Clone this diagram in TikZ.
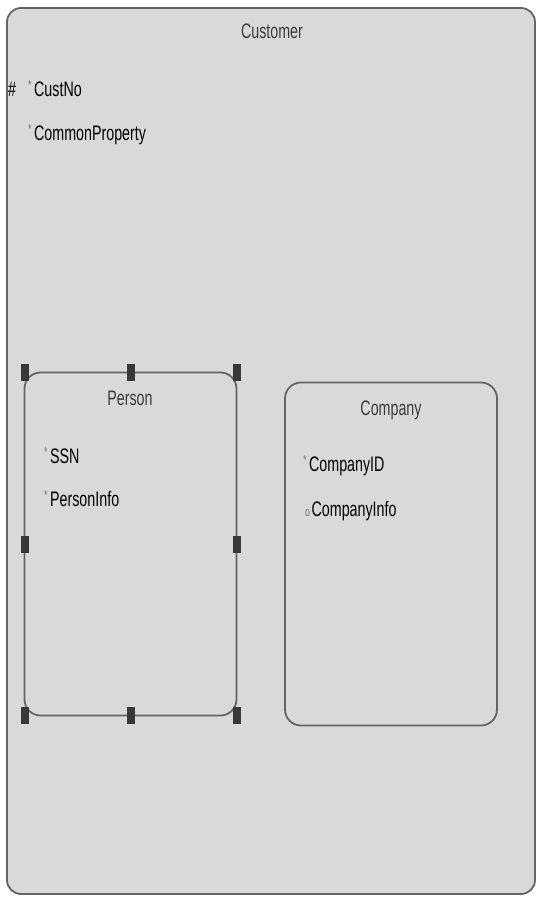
\documentclass[tikz,border=0pt]{standalone}
\usepackage{fontspec}
\setmainfont{Liberation Sans}[FakeStretch=0.68]
\usetikzlibrary{positioning}
\definecolor{boxfill}{HTML}{D9D9D9}
\definecolor{boxline}{HTML}{646464}
\definecolor{titlegray}{HTML}{3C3C3C}
\definecolor{handlefill}{HTML}{383838}
\newcommand{\req}{\textcolor{black!55}{\raisebox{0.3em}{\fontsize{13}{13}\selectfont *}}\kern2.5pt}
\newcommand{\opt}{\textcolor{black!55}{\fontsize{13}{13}\selectfont o}\kern1.5pt}

\begin{document}
\begin{tikzpicture}[x=1pt, y=-1pt, font=\fontsize{21}{23}\selectfont,
  entity/.style={draw=boxline, line width=1.8pt, fill=boxfill, rounded corners=16pt, inner sep=0pt, outer sep=0pt},
  title/.style={anchor=base, text=titlegray, inner sep=0pt},
  attr/.style={anchor=base west, inner sep=0pt},
  handle/.style={draw=none, fill=handlefill, minimum width=8pt, minimum height=17pt, inner sep=0pt}]
\useasboundingbox (0,0) rectangle (536,897);
% outer entity
\node[entity, rounded corners=14pt, minimum width=528pt, minimum height=886pt] (customer) at (271,451) {};
\node[title] (customer-title) at (272,38) {Customer};
\node[attr] (hash) at (8,96) {\#};
\node[attr] (custno) at (28,96) {\req CustNo};
\node[attr] (commonprop) at (28,140) {\req CommonProperty};
% subtypes
\node[entity, minimum width=212pt, minimum height=343pt] (person) at (130.5,544) {};
\node[title] (person-title) at (130,405) {Person};
\node[attr] (ssn) at (44,463) {\req SSN};
\node[attr] (personinfo) at (44,506) {\req PersonInfo};
\node[entity, minimum width=212pt, minimum height=343pt] (company) at (391,554) {};
\node[title] (company-title) at (391,415) {Company};
\node[attr] (companyid) at (303,471) {\req CompanyID};
\node[attr] (companyinfo) at (305,516) {\opt CompanyInfo};
% selection handles
\foreach \a in {north west,north,north east,west,east,south west,south,south east}
  \node[handle] (h-\a) at (person.\a) {};
\end{tikzpicture}
\end{document}
